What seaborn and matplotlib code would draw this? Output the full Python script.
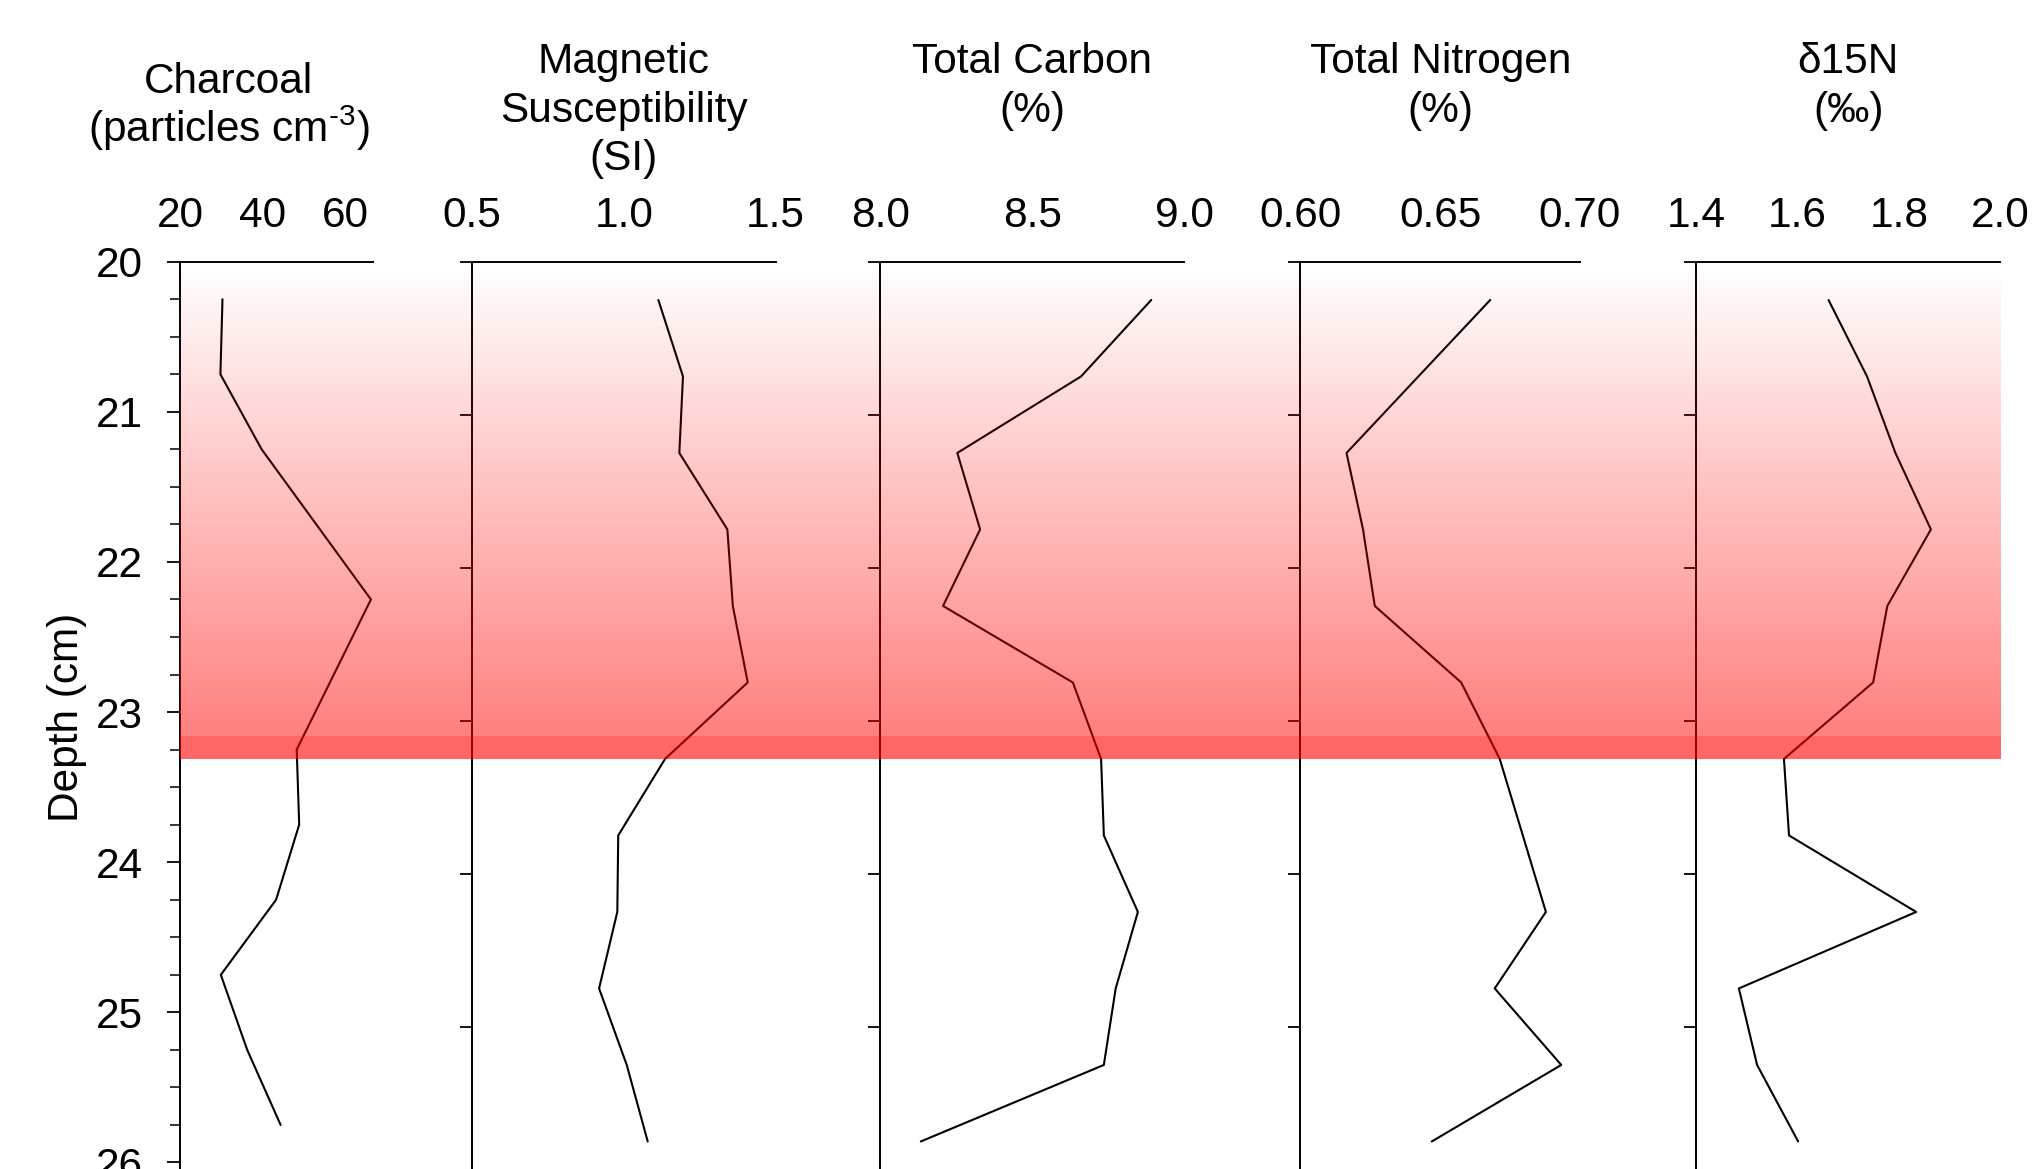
import numpy as np
import matplotlib
matplotlib.use("Agg")
import matplotlib.pyplot as plt
import seaborn as sns

# ---------------- data ----------------
depth = [20.25, 20.75, 21.25, 21.75, 22.25, 22.75, 23.25, 23.75, 24.25, 24.75, 25.25, 25.75]
charcoal_depth = [20.25, 20.75, 21.25, 22.25, 23.25, 23.75, 24.25, 24.75, 25.25, 25.75]
charcoal = [30.3, 29.8, 39.8, 66.3, 48.3, 48.9, 43.3, 29.9, 36.3, 44.4]
mag_sus = [1.114, 1.195, 1.183, 1.341, 1.359, 1.408, 1.136, 0.982, 0.979, 0.919, 1.010, 1.079]
total_c = [8.891, 8.660, 8.253, 8.328, 8.206, 8.633, 8.726, 8.735, 8.847, 8.774, 8.735, 8.133]
tn_depth = [20.25, 21.25, 21.75, 22.25, 22.75, 23.25, 24.25, 24.75, 25.25, 25.75]
total_n = [0.6679, 0.6165, 0.6224, 0.6266, 0.6575, 0.6713, 0.6878, 0.6695, 0.6933, 0.6470]
d15n = [1.661, 1.737, 1.793, 1.863, 1.777, 1.749, 1.573, 1.583, 1.834, 1.484, 1.520, 1.601]

headers = [
    ["Charcoal", "(particles cm$^{\\mathregular{\u2010" + "3}}$)"],
    ["Magnetic", "Susceptibility", "(SI)"],
    ["Total Carbon", "(%)"],
    ["Total Nitrogen", "(%)"],
    ["\u03b415N", "(\u2030)"],
]
xticks = [[20, 40, 60], [0.5, 1.0, 1.5], [8.0, 8.5, 9.0], [0.60, 0.65, 0.70], [1.4, 1.6, 1.8, 2.0]]
xticklabels = [["20", "40", "60"], ["0.5", "1.0", "1.5"], ["8.0", "8.5", "9.0"],
               ["0.60", "0.65", "0.70"], ["1.4", "1.6", "1.8", "2.0"]]
xlims = [(20, 66.8), (0.5, 1.5), (8.0, 9.0), (0.60, 0.70), (1.4, 2.0)]
depth_ticks = [20, 21, 22, 23, 24, 25, 26]
depth_label = "Depth (cm)"

# highlighted interval (depth, cm)
shade_top = 20.0
shade_grad_end = 23.1
shade_band_end = 23.25

# ---------------- style ----------------
sns.set_theme(style="ticks")
plt.rcParams["font.family"] = ["Liberation Sans", "DejaVu Sans"]
plt.rcParams["mathtext.fontset"] = "custom"
plt.rcParams["mathtext.rm"] = "Liberation Sans"
plt.rcParams["mathtext.it"] = "Liberation Sans"
plt.rcParams["mathtext.bf"] = "Liberation Sans"
plt.rcParams["mathtext.default"] = "regular"

W, H = 2032, 1169
fig = plt.figure(figsize=(W / 100, H / 100), dpi=100)
fig.patch.set_facecolor("white")

top_px = 261.7
bot_px = 1200.0
ax_bottom = 1 - bot_px / H
ax_height = (bot_px - top_px) / H

panels_px = [(180.0, 373.0), (471.7, 775.7), (880.4, 1184.4), (1300.4, 1580.0), (1696.3, 2000.3)]
ylim_first = (20 + (bot_px - top_px) / 151.7, 20)
ylim_other = (20 + (bot_px - top_px) / 153.0, 20)

series = [(charcoal, charcoal_depth), (mag_sus, depth), (total_c, depth), (total_n, tn_depth), (d15n, depth)]

FS = 30.5
axes = []
for i, ((l, r), (vals, deps)) in enumerate(zip(panels_px, series)):
    ax = fig.add_axes([l / W, ax_bottom, (r - l) / W, ax_height])
    ax.patch.set_alpha(0)
    sns.lineplot(x=vals, y=deps, orient="y", sort=False, estimator=None,
                 color="black", linewidth=1.5, ax=ax)
    ax.set_xlim(*xlims[i])
    ax.set_ylim(*(ylim_first if i == 0 else ylim_other))
    ax.set_xlabel("")
    ax.set_ylabel("")
    ax.xaxis.tick_top()
    ax.set_xticks(xticks[i])
    ax.set_xticklabels(xticklabels[i])
    ax.tick_params(axis="x", which="major", direction="out", length=9.6, width=1.3,
                   pad=9.0, labelsize=FS, top=True, bottom=False, labeltop=True,
                   labelbottom=False, colors="black")
    ax.set_yticks(depth_ticks)
    if i == 0:
        ax.set_yticklabels([str(t) for t in depth_ticks])
        ax.set_yticks(np.arange(20, 26.5, 0.25), minor=True)
        ax.tick_params(axis="y", which="major", direction="out", length=9.4, width=1.3,
                       pad=17.5, labelsize=FS, colors="black")
        ax.tick_params(axis="y", which="minor", direction="out", length=7.2, width=1.1,
                       colors="black")
    else:
        ax.tick_params(axis="y", which="major", direction="out", length=8.9, width=1.3,
                       labelleft=False, colors="black")
    sns.despine(ax=ax, top=False, right=True, left=False, bottom=True)
    for s in ("top", "left"):
        ax.spines[s].set_linewidth(1.4)
        ax.spines[s].set_color("black")
    ax.grid(False)
    axes.append(ax)

# shading overlay across all panels (drawn on top, semi transparent)
ov_l, ov_r = 180.0, 2001.0
ov = fig.add_axes([ov_l / W, ax_bottom, (ov_r - ov_l) / W, ax_height])
ov.patch.set_alpha(0)
n = 256
rgba = np.zeros((n, 1, 4))
rgba[..., 0] = 1.0
rgba[:, 0, 3] = np.linspace(0.0, 0.5, n)
ov.imshow(rgba, extent=[0, 1, shade_grad_end, shade_top], origin="upper",
          aspect="auto", interpolation="bilinear")
ov.axhspan(shade_grad_end, shade_band_end, color=(1, 0, 0), alpha=0.6, lw=0)
ov.set_xlim(0, 1)
ov.set_ylim(*ylim_other)
ov.axis("off")

# headers
header_x = [229.0, 623.7, 1032.4, 1440.2, 1848.3]
header_base = [[93.3, 141.7], [73.3, 121.7, 170.0], [73.3, 121.7], [73.3, 121.7], [73.3, 121.7]]
for hx, lines, bases in zip(header_x, headers, header_base):
    for s, b in zip(lines, bases):
        fig.text(hx / W, 1 - b / H, s, ha="center", va="baseline", fontsize=FS, color="black")

fig.text(67 / W, 1 - 717 / H, depth_label, rotation=90, ha="center", va="center",
         fontsize=FS, color="black")

fig.savefig("out.png", dpi=100, facecolor="white")
